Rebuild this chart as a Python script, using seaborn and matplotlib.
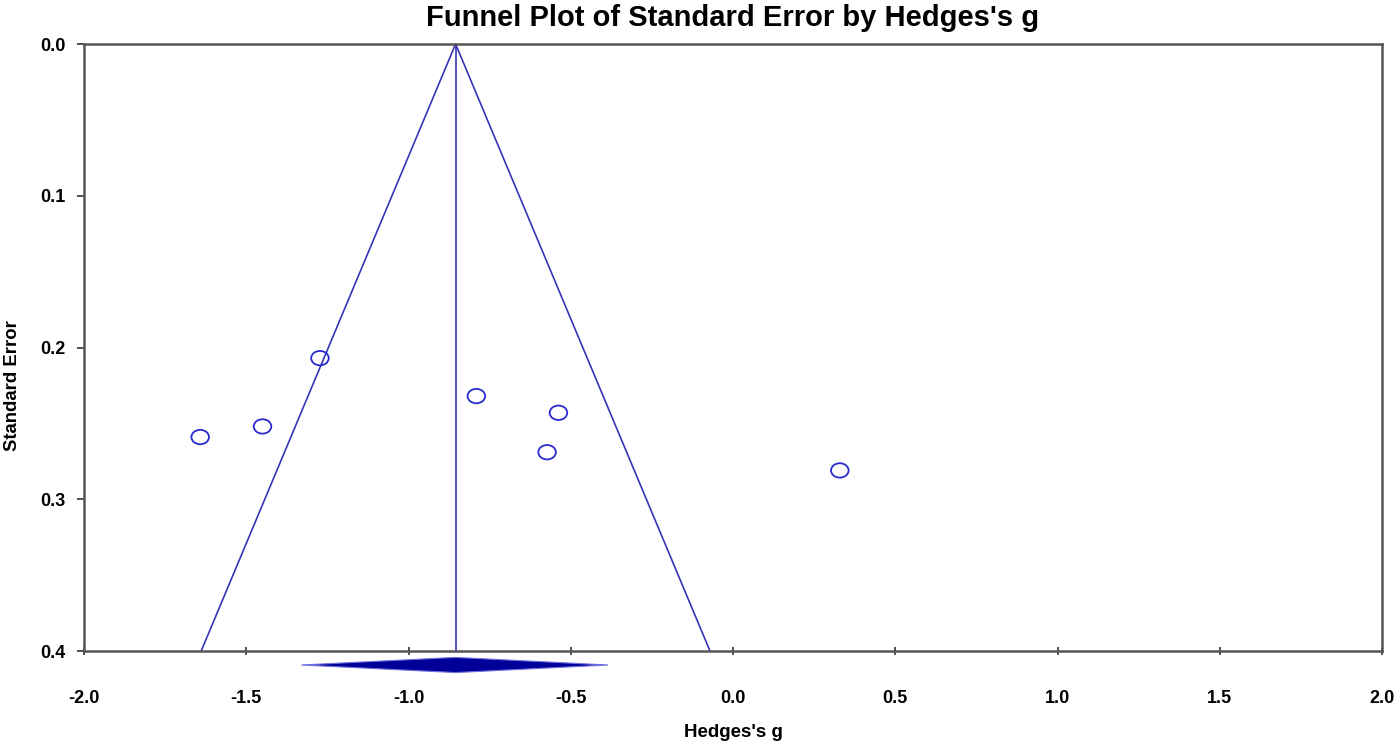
import numpy as np
import pandas as pd
import matplotlib
matplotlib.use("Agg")
import matplotlib.pyplot as plt
import seaborn as sns
from matplotlib.patches import Polygon
from matplotlib.path import Path
from matplotlib.transforms import Affine2D

# 数据
study_g = [-1.273, -1.450, -1.642, -0.791, -0.538, -0.573, 0.329]
study_se = [0.207, 0.252, 0.259, 0.232, 0.243, 0.269, 0.281]
mean_g = -0.855
ci_low, ci_high = -1.33, -0.385
se_max = 0.4
x_ticks = [-2.0, -1.5, -1.0, -0.5, 0.0, 0.5, 1.0, 1.5, 2.0]
y_ticks = [0.0, 0.1, 0.2, 0.3, 0.4]

df = pd.DataFrame({"g": study_g, "se": study_se})

sns.set_style("white")
plt.rcParams['font.family'] = ['Liberation Sans', 'DejaVu Sans']
plt.rcParams['font.weight'] = 'bold'
plt.rcParams['text.color'] = 'black'

fig = plt.figure(figsize=(13.98, 7.42), dpi=100)
ax = fig.add_axes([0.0601, 0.1226, 0.9285, 0.8181])

line_col = "#3535b8"

# 漏斗线
ax.plot([mean_g - 1.96 * se_max, mean_g, mean_g + 1.96 * se_max], [se_max, 0.0, se_max],
        color=line_col, lw=1.2, clip_on=False, zorder=2)
ax.plot([mean_g, mean_g], [0.0, se_max], color=line_col, lw=1.2, zorder=2)

# 研究点 (略扁的空心圆)
ellipse = Path.unit_circle().transformed(Affine2D().scale(1.22, 1.0))
sns.scatterplot(data=df, x="g", y="se", ax=ax, marker=ellipse, s=160,
                facecolors="none", edgecolor="#2a2ad0", linewidth=1.3, zorder=3)

# 合并效应菱形
y0, h = 0.4092, 0.0050
diamond = Polygon([[ci_low, y0], [mean_g, y0 - h], [ci_high, y0], [mean_g, y0 + h]],
                  closed=True, facecolor="#000099", edgecolor="#7070e0", lw=0.8,
                  clip_on=False, zorder=4)
ax.add_patch(diamond)

ax.set_xlim(-2.0, 2.0)
ax.set_ylim(0.4, 0.0)
ax.set_xticks(x_ticks)
ax.set_yticks(y_ticks)
ax.set_xticklabels([f"{t:.1f}" for t in x_ticks], fontsize=13, fontweight='bold')
ax.set_yticklabels([f"{t:.1f}" for t in y_ticks], fontsize=13, fontweight='bold')
ax.tick_params(axis='x', bottom=True, direction='inout', length=6, width=1.2, pad=25,
               colors='#333333', labelcolor='black')
ax.tick_params(axis='y', left=True, direction='out', length=5, width=1.2, pad=8,
               colors='#333333', labelcolor='black')

for s in ax.spines.values():
    s.set_color('#555555')
    s.set_linewidth(1.8)

ax.set_xlabel("Hedges's g", fontsize=13.5, fontweight='bold', labelpad=12, color='black')
ax.set_ylabel("Standard Error", fontsize=13.3, fontweight='bold', color='black')
ax.yaxis.set_label_coords(-0.0485, 0.438)
ax.set_title("Funnel Plot of Standard Error by Hedges's g", fontsize=21, fontweight='bold',
             pad=13, color='black')

fig.savefig("out.png", dpi=100)
